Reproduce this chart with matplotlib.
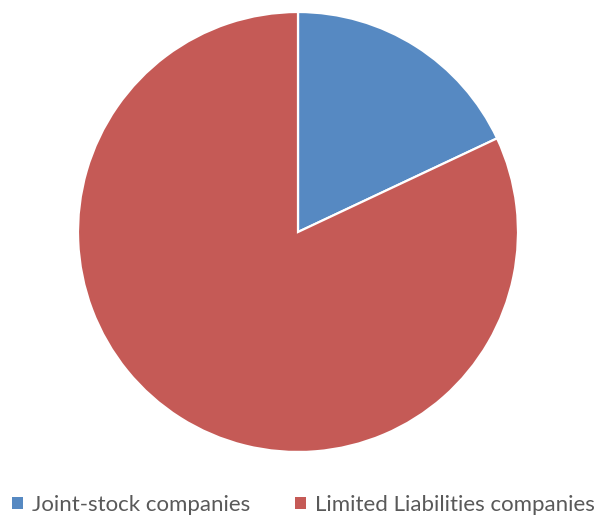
import matplotlib.pyplot as plt
from matplotlib.patches import Patch

# Share of companies by legal form
labels = ["Joint-stock companies", "Limited Liabilities companies"]
shares = [18, 82]
colors = ["#5689C2", "#C55A56"]

fig = plt.figure(figsize=(5.95, 5.15), dpi=100)
ax = fig.add_axes([78 / 595, 63 / 515, 440 / 595, 440 / 515])

ax.pie(shares, colors=colors, startangle=90, counterclock=False,
       radius=1.0, wedgeprops=dict(edgecolor="white", linewidth=1.6))
ax.set_xlim(-1.0, 1.0)
ax.set_ylim(-1.0, 1.0)
ax.set_aspect("equal")
ax.axis("off")

handles = [Patch(facecolor=c, edgecolor="none") for c in colors]
fig.legend(handles, labels, loc="center", bbox_to_anchor=(303.5 / 595, 1 - 505 / 515),
           ncol=2, frameon=False, handlelength=0.5, handleheight=0.5,
           handletextpad=0.4, columnspacing=2.0, borderpad=0,
           prop={"family": "Lato", "size": 16}, labelcolor="#595959")

fig.savefig("out.png", dpi=100)
